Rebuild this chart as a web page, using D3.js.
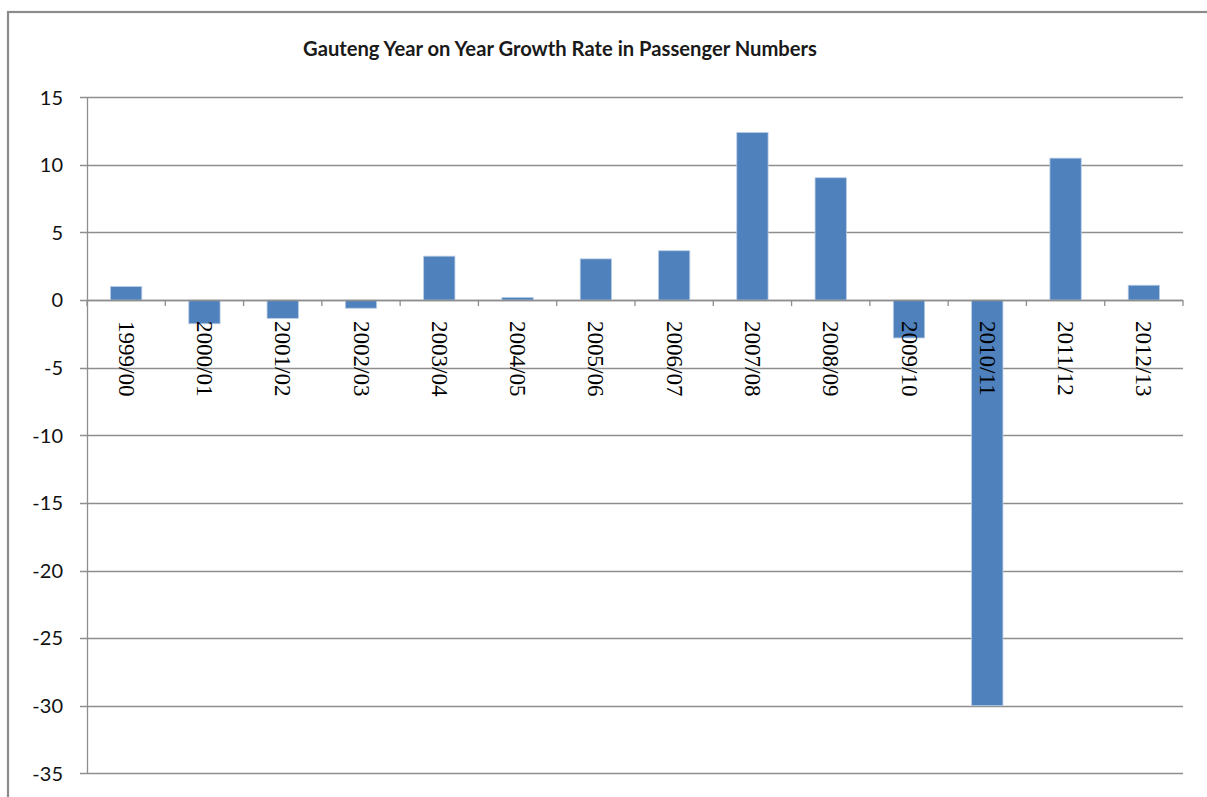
<!DOCTYPE html>
<html>
<head>
<meta charset="utf-8">
<script src="https://cdn.jsdelivr.net/npm/d3@7"></script>
<style>
  html, body { margin: 0; padding: 0; background: #fff; }
  svg { display: block; }
</style>
</head>
<body>
<svg id="chart" width="1207" height="797"></svg>
<script>
const title = "Gauteng Year on Year Growth Rate in Passenger Numbers";
const categories = ["1999/00","2000/01","2001/02","2002/03","2003/04","2004/05","2005/06",
                    "2006/07","2007/08","2008/09","2009/10","2010/11","2011/12","2012/13"];
const values = [1.0, -1.75, -1.35, -0.6, 3.25, 0.2, 3.05, 3.65, 12.4, 9.05, -2.8, -30.0, 10.5, 1.1];
const yTicks = [15, 10, 5, 0, -5, -10, -15, -20, -25, -30, -35];

(function () {
const svg = d3.select("#chart");
const pLeft = 87, pRight = 1183, pTop = 97.3, pBottom = 773.3;

// chart border
svg.append("rect").attr("x", 8).attr("y", 12).attr("width", 1215).attr("height", 810)
  .attr("fill", "#fff").attr("stroke", "#8c8c8c").attr("stroke-width", 2.2);

const y = d3.scaleLinear().domain([-35, 15]).range([pBottom, pTop]);
const x = d3.scaleBand().domain(categories).range([pLeft, pRight]).paddingInner(0.6).paddingOuter(0.3);
const xb = d3.scaleBand().domain(categories).range([pLeft, pRight]);

// title
svg.append("text").attr("x", 560).attr("y", 56).attr("text-anchor", "middle")
  .attr("font-family", "Lato, 'Open Sans', sans-serif").attr("font-weight", 700)
  .attr("font-size", 21).attr("fill", "#1a1a1a").attr("textLength", 514)
  .attr("lengthAdjust", "spacingAndGlyphs").text(title);

// gridlines
svg.append("g").selectAll("line").data(yTicks).join("line")
  .attr("x1", pLeft - 7).attr("x2", pRight)
  .attr("y1", d => Math.round(y(d)) + 0.5).attr("y2", d => Math.round(y(d)) + 0.5)
  .attr("stroke", "#8e8e8e").attr("stroke-width", 1.3);

// y axis labels
svg.append("g").selectAll("text").data(yTicks).join("text")
  .attr("x", 63).attr("y", d => y(d)).attr("dy", "0.36em").attr("text-anchor", "end")
  .attr("font-family", "Lato, 'Open Sans', sans-serif").attr("font-size", 20)
  .attr("fill", "#111").text(d => d);

// y axis line
svg.append("line").attr("x1", pLeft + 0.5).attr("x2", pLeft + 0.5)
  .attr("y1", pTop).attr("y2", pBottom).attr("stroke", "#8e8e8e").attr("stroke-width", 1.3);

// bars
svg.append("g").selectAll("rect").data(values).join("rect")
  .attr("x", (d, i) => x(categories[i]))
  .attr("width", x.bandwidth())
  .attr("y", d => y(Math.max(0, d)))
  .attr("height", d => Math.abs(y(d) - y(0)))
  .attr("fill", "#4f81bd").attr("stroke", "#b9cde5").attr("stroke-width", 0.8);

// zero axis line + ticks
svg.append("line").attr("x1", pLeft).attr("x2", pRight)
  .attr("y1", Math.round(y(0)) + 0.5).attr("y2", Math.round(y(0)) + 0.5)
  .attr("stroke", "#8e8e8e").attr("stroke-width", 1.3);
const tickPos = categories.map(c => xb(c)).concat([pRight]);
svg.append("g").selectAll("line").data(tickPos).join("line")
  .attr("x1", d => d).attr("x2", d => d)
  .attr("y1", y(0)).attr("y2", y(0) + 6)
  .attr("stroke", "#8e8e8e").attr("stroke-width", 1.3);

// x labels (rotated)
svg.append("g").selectAll("text").data(categories).join("text")
  .attr("transform", c => `translate(${xb(c) + xb.bandwidth() / 2},${y(0) + 21}) rotate(90)`)
  .attr("dominant-baseline", "central")
  .attr("font-family", "'Liberation Serif', 'Times New Roman', serif")
  .attr("font-size", 23).attr("fill", "#000").text(c => c);
})();
</script>
</body>
</html>
